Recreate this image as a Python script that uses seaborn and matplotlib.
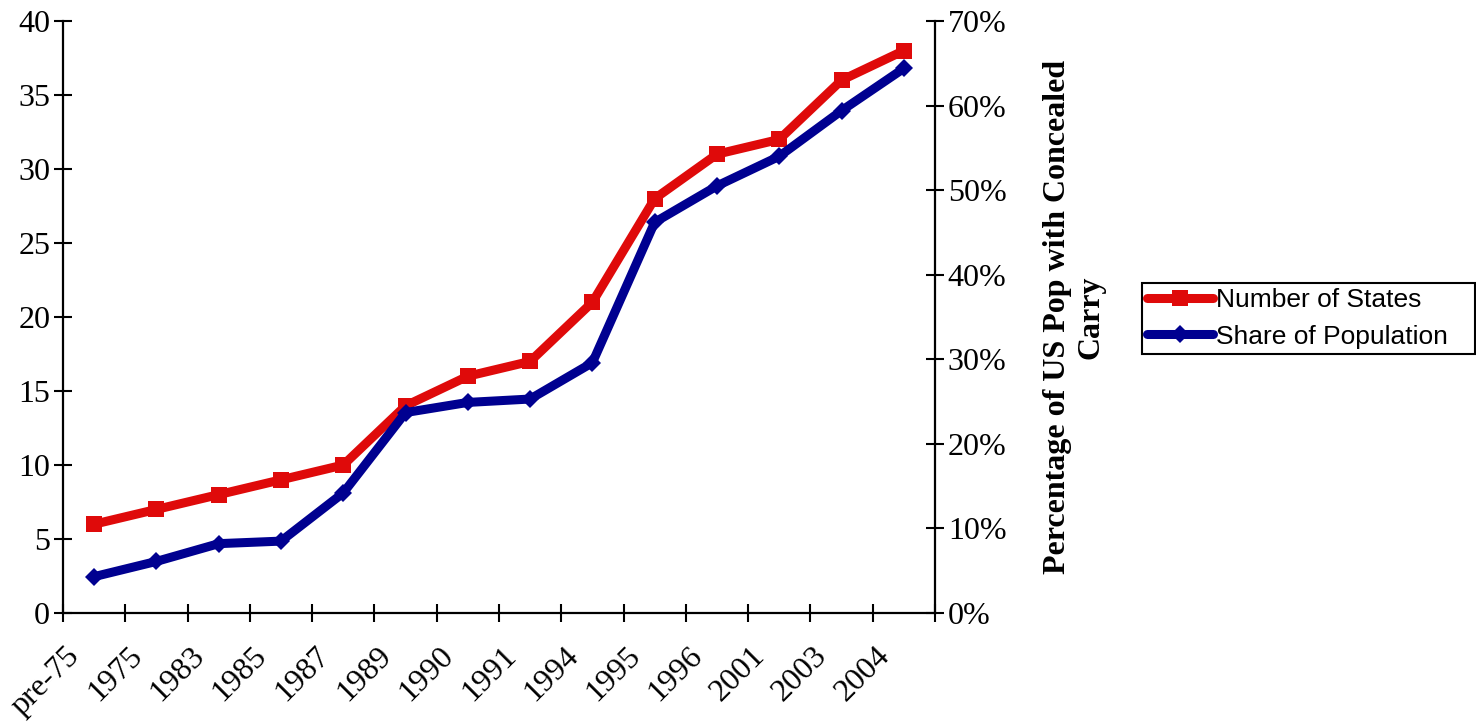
import numpy as np
import pandas as pd
import matplotlib
matplotlib.use("Agg")
import matplotlib.pyplot as plt
from matplotlib.ticker import PercentFormatter, FixedLocator
from matplotlib.transforms import ScaledTranslation
from matplotlib.lines import Line2D
import seaborn as sns

# Concealed-carry adoption over time
years = ["pre-75", "1975", "1983", "1985", "1987", "1989", "1990",
         "1991", "1994", "1995", "1996", "2001", "2003", "2004"]
num_states = [6, 7, 8, 9, 10, 14, 16, 17, 21, 28, 31, 32, 36, 38]
pop_share = [0.043, 0.061, 0.082, 0.085, 0.142, 0.237, 0.249, 0.253,
             0.296, 0.462, 0.505, 0.540, 0.594, 0.644]

df = pd.DataFrame({"pos": np.arange(len(years)),
                   "states": num_states,
                   "share": pop_share})

RED = "#DF0A0A"
BLUE = "#000090"

sns.set_style("white")
plt.rcParams["font.family"] = ["Liberation Serif", "DejaVu Serif"]
plt.rcParams["axes.linewidth"] = 1.6
for key in ("text.color", "axes.labelcolor", "xtick.color", "ytick.color",
            "axes.edgecolor"):
    plt.rcParams[key] = "black"

fig = plt.figure(figsize=(14.76, 7.25), dpi=100)
ax = fig.add_axes([63 / 1476, 1 - 613 / 725, (935 - 63) / 1476, (613 - 21) / 725])
ax2 = ax.twinx()

sns.lineplot(data=df, x="pos", y="states", ax=ax, color=RED, lw=6.5,
             marker="s", ms=12, markeredgecolor=RED, markeredgewidth=0,
             legend=False)
sns.lineplot(data=df, x="pos", y="share", ax=ax2, color=BLUE, lw=6.5,
             marker="D", ms=9.5, markeredgecolor=BLUE, markeredgewidth=0,
             legend=False)

n = len(years)
ax.set_xlim(-0.5, n - 0.5)
ax.set_ylim(0, 40)
ax2.set_ylim(0, 0.7)
ax.set_xlabel("")
ax.set_ylabel("")

# category boundaries carry the tick marks, category centres carry the labels
ax.xaxis.set_major_locator(FixedLocator(np.arange(-0.5, n, 1.0)))
ax.xaxis.set_major_formatter(plt.NullFormatter())
ax.set_xticks(np.arange(n), labels=years, minor=True)
ax.set_yticks(np.arange(0, 41, 5))
ax2.set_yticks(np.arange(0, 0.71, 0.1))
ax2.yaxis.set_major_formatter(PercentFormatter(1.0, decimals=0))

tick_kw = dict(direction="inout", length=12.5, width=1.5, color="black",
               labelsize=23, labelcolor="black")
ax.tick_params(axis="x", which="major", bottom=True, **tick_kw)
ax.tick_params(axis="x", which="minor", bottom=True, length=0, pad=26,
               labelsize=23, labelcolor="black")
ax.tick_params(axis="y", which="major", left=True, pad=3, **tick_kw)
ax2.tick_params(axis="y", which="major", right=True, pad=3, **tick_kw)

shift = ScaledTranslation(-21 / 100, 0, fig.dpi_scale_trans)
for lab in ax.get_xticklabels(minor=True):
    lab.set_rotation(45)
    lab.set_rotation_mode("anchor")
    lab.set_ha("right")
    lab.set_va("center_baseline")
    lab.set_transform(lab.get_transform() + shift)

for a in (ax, ax2):
    a.spines["top"].set_visible(False)
    a.grid(False)
ax.spines["right"].set_visible(False)
ax2.spines["left"].set_visible(False)
ax2.spines["bottom"].set_visible(False)

ax2.set_ylabel("Percentage of US Pop with Concealed\nCarry", fontsize=23,
               fontweight="bold", rotation=90, ha="center", va="center",
               multialignment="center", linespacing=1.2, color="black")
ax2.yaxis.set_label_coords((1074 - 63) / (935 - 63), 0.5)

handles = [
    Line2D([], [], color=RED, lw=6.5, marker="s", ms=12, markeredgewidth=0),
    Line2D([], [], color=BLUE, lw=6.5, marker="D", ms=9.5, markeredgewidth=0),
]
top = 1 - 283 / 725
leg = fig.legend(handles, ["Number of States", "Share of Population"],
                 loc="upper left",
                 bbox_to_anchor=(1142 / 1476, top - 0.3, (1475 - 1142) / 1476, 0.3),
                 mode="expand", borderaxespad=0, frameon=True, fancybox=False,
                 framealpha=1, edgecolor="black",
                 prop={"family": "Liberation Sans", "size": 19},
                 handlelength=2.5, handletextpad=0.12, borderpad=0.2,
                 labelspacing=0.47)
leg.get_frame().set_linewidth(1.5)
for t in leg.get_texts():
    t.set_color("black")

fig.savefig("out.png", dpi=100)
